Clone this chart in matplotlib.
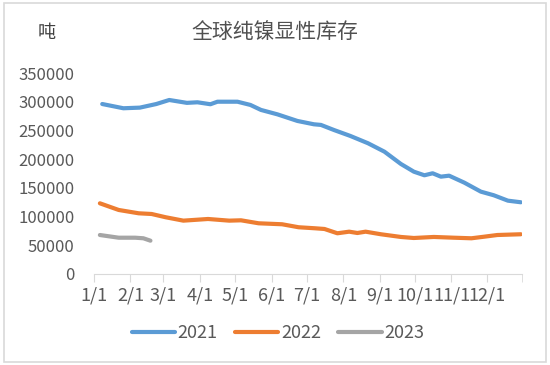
import matplotlib

matplotlib.use("Agg")
import matplotlib.pyplot as plt
import matplotlib.dates as mdates
from matplotlib.ticker import FixedLocator
import pandas as pd
from matplotlib.patches import Rectangle

plt.rcParams['font.family'] = ['Noto Sans CJK SC', 'DejaVu Sans']

# 数据（按图读取，周度）
dates_2021 = ["01-08", "01-26", "02-09", "02-23", "03-06", "03-21", "03-30", "04-10",
              "04-16", "05-03", "05-14", "05-23", "06-06", "06-23", "07-07", "07-13",
              "07-24", "08-07", "08-22", "09-05", "09-19", "09-30", "10-09", "10-16",
              "10-23", "10-30", "11-12", "11-26", "12-07", "12-19", "12-30"]
stock_2021 = [296000, 288600, 289700, 296000, 303000, 298000, 299000, 295600,
              300000, 300000, 294400, 285700, 278000, 266500, 260700, 259600,
              250800, 240400, 227700, 213000, 191600, 178200, 171900, 175400,
              169500, 171200, 159000, 143400, 137100, 127700, 124900]

dates_2022 = ["01-06", "01-22", "02-08", "02-19", "03-03", "03-18", "04-08", "04-26",
              "05-06", "05-21", "06-10", "06-24", "07-08", "07-16", "07-27", "08-06",
              "08-13", "08-20", "09-02", "09-19", "09-30", "10-17", "11-03", "11-18",
              "11-29", "12-10", "12-30"]
stock_2022 = [123100, 111500, 105700, 104500, 98800, 92900, 95800, 92900,
              93500, 88300, 86600, 81400, 79600, 78400, 70900, 73700,
              71400, 73700, 69200, 64500, 62700, 64500, 63200, 62200,
              65000, 67900, 69200]

dates_2023 = ["01-06", "01-22", "02-05", "02-12", "02-18"]
stock_2023 = [67900, 63200, 63200, 62200, 58000]

month_labels = ["1/1", "2/1", "3/1", "4/1", "5/1", "6/1", "7/1", "8/1", "9/1",
                "10/1", "11/1", "12/1"]

SERIES = [
    ("2021", dates_2021, stock_2021, "#5B9BD5"),
    ("2022", dates_2022, stock_2022, "#ED7D31"),
    ("2023", dates_2023, stock_2023, "#A5A5A5"),
]


def to_dates(md):
    # 统一放到同一年的日历轴上
    return pd.to_datetime(["2021-" + s for s in md])


fig = plt.figure(figsize=(5.5, 3.65), dpi=100)
ax = fig.add_axes([94 / 550, 1 - 274 / 365, (522 - 94) / 550, (274 - 73) / 365])

for label, d, v, c in SERIES:
    ax.plot(to_dates(d), v, color=c, linewidth=3, label=label, solid_capstyle='round')

x_end = pd.Timestamp("2021-12-31")
ax.set_xlim(pd.Timestamp("2021-01-01"), x_end)
ax.set_ylim(0, 350000)
ax.set_yticks(range(0, 350001, 50000))

ticks = pd.date_range("2021-01-01", periods=12, freq="MS")
ax.set_xticks(ticks)
ax.set_xticklabels(month_labels)
ax.xaxis.set_minor_locator(FixedLocator([mdates.date2num(x_end)]))

for s in ["top", "right", "left"]:
    ax.spines[s].set_visible(False)
ax.spines["bottom"].set_color("#D9D9D9")
ax.tick_params(axis="x", which="both", direction="out", length=6, color="#D9D9D9",
               labelsize=13, labelcolor="#595959", pad=3)
ax.tick_params(axis="y", length=0, labelsize=12, labelcolor="#595959", pad=14)

fig.text(0.5, 1 - 33 / 365, "全球纯镍显性库存", ha="center", va="center",
         fontsize=15, color="#505050")
fig.text(47 / 550, 1 - 33 / 365, "吨", ha="center", va="center",
         fontsize=13, color="#404040")

fig.legend(loc="center", bbox_to_anchor=(278 / 550, 1 - 333 / 365), ncol=3,
           frameon=False, fontsize=13, handlelength=2.4, handletextpad=0.15,
           columnspacing=0.95, labelcolor="#595959")

fig.patches.append(Rectangle((4 / 550, 3 / 365), 542 / 550, 359 / 365,
                             transform=fig.transFigure, fill=False,
                             edgecolor="#D9D9D9", linewidth=1.2))

fig.savefig("out.png", dpi=100)
